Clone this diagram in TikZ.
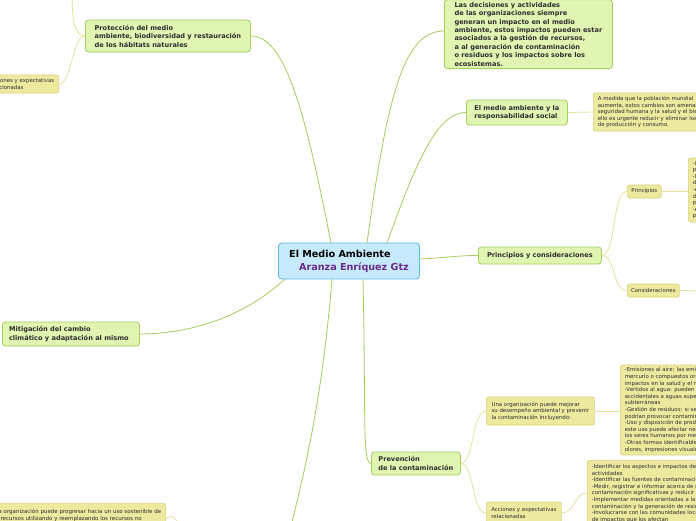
\documentclass[tikz,border=0pt]{standalone}
\usepackage{fontspec}
\setmainfont{DejaVu Sans}
\definecolor{mainfill}{HTML}{E0F5B2}
\definecolor{mainborder}{HTML}{A4CF5C}
\definecolor{subfill}{HTML}{EDE99E}
\definecolor{subborder}{HTML}{D9D37C}
\definecolor{cfill}{HTML}{C6EAFB}
\definecolor{cborder}{HTML}{5FBBEA}
\definecolor{aranza}{HTML}{6A2A8C}
\definecolor{txt}{HTML}{2E2E2E}
\definecolor{mainline}{HTML}{A6CD5C}
\definecolor{subline}{HTML}{E6E29C}
\pgfdeclarelayer{background}
\pgfsetlayers{background,main}
\tikzset{
  mainnode/.style={draw=mainborder, fill=mainfill, rounded corners=3pt, line width=0.8pt,
    font=\bfseries\fontsize{6.6}{8.5}\selectfont, text=txt, align=left, inner xsep=5pt, inner ysep=0pt, anchor=west},
  subnode/.style={draw=subborder, fill=subfill, rounded corners=2.5pt, line width=0.7pt,
    font=\fontsize{5.4}{6.6}\selectfont, text=txt, align=left, inner xsep=4.5pt, inner ysep=0pt, anchor=west},
  centernode/.style={draw=cborder, fill=cfill, rounded corners=3.5pt, line width=0.9pt,
    font=\bfseries\fontsize{9.6}{13}\selectfont, align=left, inner xsep=8pt, inner ysep=0pt, anchor=west},
  mainlink/.style={draw=mainline, line width=0.8pt},
  sublink/.style={draw=subline, line width=0.8pt}
}
\begin{document}
\begin{tikzpicture}[x=1pt,y=-1pt]
\useasboundingbox (0,0) rectangle (696,520);
\clip (0,0) rectangle (696,520);

\coordinate (cTopA) at (331,243);
\coordinate (cTopB) at (367,243);
\coordinate (cTopC) at (387,243);
\coordinate (cRight) at (419,259);
\coordinate (cBotA) at (285,279);
\coordinate (cBotB) at (332,279);
\coordinate (cBotC) at (363,279);
\coordinate (offDown) at (290,530);
\coordinate (offUp) at (72,-10);
\coordinate (offCons) at (700,291);
\coordinate (offBL) at (185,535);
\coordinate (topIn) at (444,31);

% center
\node[centernode, minimum height=36pt, minimum width=141pt] (center) at (278,261)
  {El Medio Ambiente\\\hspace*{10pt}{\color{aranza}Aranza Enríquez Gtz}};

% main nodes
\node[mainnode, anchor=south west, inner ysep=2.5pt, minimum width=168pt, font=\bfseries\fontsize{6.6}{8.4}\selectfont] (top) at (444,69)
  {Las decisiones y actividades\\de las organizaciones siempre\\generan un impacto en el medio\\ambiente, estos impactos pueden estar\\asociados a la gestión de recursos,\\a al generación de contaminación\\o residuos y los impactos sobre los\\ecosistemas.};
\node[mainnode, minimum height=32pt, minimum width=165pt] (prot) at (85,36)
  {Protección del medio\\ambiente, biodiversidad y restauración\\de los hábitats naturales};
\node[mainnode, minimum height=25pt, minimum width=101pt] (resp) at (466,112.5)
  {El medio ambiente y la\\responsabilidad social};
\node[mainnode, minimum height=17pt, minimum width=123pt] (princ) at (478,255.5)
  {Principios y consideraciones};
\node[mainnode, minimum height=24pt, minimum width=137pt, inner xsep=3pt] (mitig) at (2,334)
  {Mitigación del cambio\\climático y adaptación al mismo\hspace*{4pt}};
\node[mainnode, minimum height=23pt, minimum width=89pt] (prev) at (371,463.5)
  {Prevención\\de la contaminación};

% sub nodes
\node[subnode, minimum height=38pt] (respTxt) at (593,112)
  {A medida que la población mundial\\aumenta, estos cambios son amenazas para la\\seguridad humana y la salud y el bienestar de la sociedad. Por\\ello es urgente reducir y eliminar los patrones insostenibles\\de producción y consumo.};
\node[subnode, minimum height=13pt, minimum width=34pt, inner xsep=3pt] (principios) at (627,191.5) {Principios};
\node[subnode, minimum height=64pt] (principiosTxt) at (688,190)
  {-la responsabilidad ambiental\\para con el entorno\\-la prevención de riesgos\\de las actividades\\-el enfoque precautorio\\de la organización\\para proteger el ambiente\\-el que contamina\\paga};
\node[subnode, minimum height=13pt, minimum width=52pt, inner xsep=3pt] (consid) at (627,290.5) {Consideraciones};
\node[subnode, minimum height=28pt, minimum width=108pt] (unaOrg) at (486,411)
  {Una organización puede mejorar\\su desempeño ambiental y prevenir\\la contaminación incluyendo:};
\node[subnode, minimum height=90pt] (prevTxt) at (620,410)
  {-Emisiones al aire: las emisiones de plomo,\\mercurio o compuestos orgánicos volátiles\\impactos en la salud y el medio ambiente\\-Vertidos al agua: pueden producirse vertidos\\accidentales a aguas superficiales y\\subterráneas\\-Gestión de residuos: si se gestionan mal\\podrían provocar contaminación\\-Uso y disposición de productos químicos:\\este uso puede afectar negativamente a\\los seres humanos por medio de la exposición\\-Otras formas identificables de contaminación:\\olores, impresiones visuales};
\node[subnode, minimum height=22pt, minimum width=75pt] (accPrev) at (486,513)
  {Acciones y expectativas\\relacionadas};
\node[subnode, minimum height=66pt, anchor=north west] (accPrevTxt) at (587,460)
  {-Identificar los aspectos e impactos de sus decisiones y\\actividades\\-Identificar las fuentes de contaminación\\-Medir, registrar e informar acerca de sus fuentes de\\contaminación significativas y reducir la\\-Implementar medidas orientadas a la prevención de la\\contaminación y la generación de residuos\\-Involucrarse con las comunidades locales acerca\\de impactos que los afectan};
\node[subnode, minimum height=18pt, anchor=east] (accProt) at (59,84)
  {Acciones y expectativas\\relacionadas};
\node[subnode, minimum height=30pt, anchor=north east, font=\fontsize{5.5}{6.6}\selectfont] (bottomLeft) at (166,503)
  {Una organización puede progresar hacia un uso sostenible de\\los recursos utilizando y reemplazando los recursos no\\renovables};

\begin{pgfonlayer}{background}
\fill[white] (0,0) rectangle (696,520);
% main connectors
\draw[mainlink] (cTopA) .. controls (305,110) and (285,36) .. (prot.east);
\draw[mainlink] (cTopB) .. controls (388,90) and (405,31) .. (topIn);
\draw[mainlink] (cTopC) .. controls (420,150) and (440,112.5) .. (resp.west);
\draw[mainlink] (cRight) .. controls (445,258) and (455,255.5) .. (princ.west);
\draw[mainlink] (cBotA) .. controls (235,325) and (175,334) .. (mitig.east);
\draw[mainlink] (cBotC) .. controls (366,410) and (362,463.5) .. (prev.west);
\draw[mainlink] (cBotB) .. controls (322,400) and (305,470) .. (offDown);
% sub connectors
\draw[sublink] (prot.west) .. controls (74,36) and (72,20) .. (offUp);
\draw[sublink] (prot.west) .. controls (72,36) and (72,84) .. (accProt.east);
\draw[sublink] (resp.east) -- (respTxt.west);
\draw[sublink] (princ.east) .. controls (616,255.5) and (612,191.5) .. (principios.west);
\draw[sublink] (princ.east) .. controls (616,255.5) and (612,290.5) .. (consid.west);
\draw[sublink] (principios.east) -- (principiosTxt.west |- principios.east);
\draw[sublink] (consid.east) -- (offCons);
\draw[sublink] (prev.east) .. controls (474,463.5) and (472,411) .. (unaOrg.west);
\draw[sublink] (prev.east) .. controls (474,463.5) and (472,513) .. (accPrev.west);
\draw[sublink] (unaOrg.east) -- (prevTxt.west |- unaOrg.east);
\draw[sublink] (accPrev.east) .. controls (575,513) and (575,492) .. (accPrevTxt.west);
\draw[sublink] (bottomLeft.east) .. controls (176,512) and (178,525) .. (offBL);
\end{pgfonlayer}
\end{tikzpicture}
\end{document}
